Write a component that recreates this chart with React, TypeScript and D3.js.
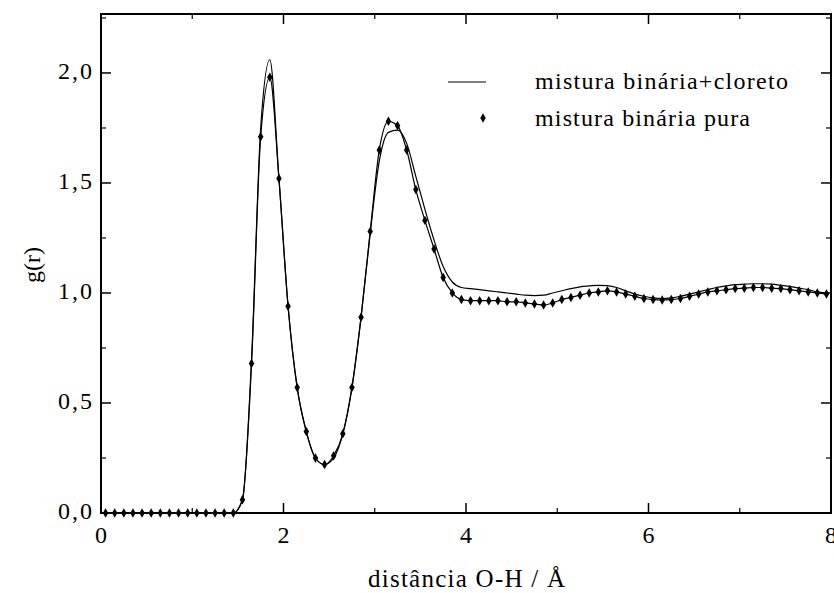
import React from "react";
import * as d3 from "d3";

const rValues: number[] = Array.from({ length: 80 }, (_, k) => +(0.05 + 0.1 * k).toFixed(2));

const gPura: number[] = [
  0, 0, 0, 0, 0, 0, 0, 0, 0, 0, 0, 0, 0, 0, 0,
  0.06, 0.68, 1.71, 1.98, 1.52, 0.94, 0.57, 0.37, 0.25, 0.22,
  0.26, 0.36, 0.57, 0.89, 1.28, 1.65, 1.78, 1.76, 1.65, 1.47,
  1.33, 1.2, 1.07, 1.0, 0.97, 0.965, 0.965, 0.965, 0.965, 0.96,
  0.96, 0.955, 0.95, 0.945, 0.955, 0.97, 0.98, 0.99, 1.0, 1.005,
  1.01, 1.005, 0.995, 0.985, 0.975, 0.97, 0.968, 0.97, 0.975, 0.985,
  0.995, 1.005, 1.01, 1.015, 1.02, 1.022, 1.025, 1.025, 1.022, 1.02,
  1.015, 1.01, 1.005, 1.0, 0.995,
];

const gCloreto: number[] = [
  0, 0, 0, 0, 0, 0, 0, 0, 0, 0, 0, 0, 0, 0, 0,
  0.06, 0.7, 1.75, 2.06, 1.52, 0.94, 0.57, 0.37, 0.25, 0.22,
  0.25, 0.36, 0.57, 0.89, 1.27, 1.6, 1.73, 1.74, 1.68, 1.53,
  1.38, 1.24, 1.12, 1.05, 1.025, 1.02, 1.015, 1.01, 1.005, 1.0,
  0.995, 0.99, 0.988, 0.99, 1.0, 1.01, 1.02, 1.028, 1.032, 1.035,
  1.033, 1.025, 1.01, 0.995, 0.985, 0.978, 0.975, 0.978, 0.985, 0.995,
  1.005, 1.015, 1.025, 1.032, 1.038, 1.04, 1.042, 1.042, 1.04, 1.035,
  1.03, 1.022, 1.015, 1.005, 1.0,
];

const xMajorTicks = [0, 2, 4, 6, 8];
const xMinorTicks = [1, 3, 5, 7];
const yMajorTicks = [0, 0.5, 1.0, 1.5, 2.0];
const yMinorTicks = [0.25, 0.75, 1.25, 1.75, 2.25];
const yTickLabels = ["0,0", "0,5", "1,0", "1,5", "2,0"];
const legendLabels = ["mistura binária+cloreto", "mistura binária pura"];

const W = 834;
const H = 593;
const left = 101;
const right = 831;
const top = 14;
const bottom = 513;

export default function App() {
  const x = d3.scaleLinear().domain([0, 8]).range([left, right]);
  const y = d3.scaleLinear().domain([0, 2.268]).range([bottom, top]);
  const line = d3
    .line<number>()
    .x((_, i) => x(rValues[i]))
    .y((d) => y(d))
    .curve(d3.curveMonotoneX);

  const font = "'Liberation Serif', 'Times New Roman', serif";
  const major = 10;
  const minor = 5;
  const marker = d3.symbol(d3.symbolDiamond, 26)() || "";

  return (
    <svg
      width={W}
      height={H}
      style={{ position: "absolute", left: 0, top: 0, background: "#fff" }}
      fontFamily={font}
    >
      <rect x={0} y={0} width={W} height={H} fill="#fff" />
      {/* data */}
      <path d={line(gCloreto) || ""} fill="none" stroke="#000" strokeWidth={1.2} />
      <path d={line(gPura) || ""} fill="none" stroke="#000" strokeWidth={1.2} />
      {gPura.map((v, i) => (
        <path
          key={i}
          d={marker}
          transform={`translate(${x(rValues[i])},${y(v)})`}
          fill="#000"
        />
      ))}
      {/* frame */}
      <rect
        x={left}
        y={top}
        width={right - left}
        height={bottom - top}
        fill="none"
        stroke="#000"
        strokeWidth={2}
      />
      {/* x ticks */}
      {xMajorTicks.map((t) => (
        <g key={"xm" + t}>
          <line x1={x(t)} x2={x(t)} y1={bottom} y2={bottom - major} stroke="#000" strokeWidth={1.5} />
          <line x1={x(t)} x2={x(t)} y1={top} y2={top + major} stroke="#000" strokeWidth={1.5} />
          <text x={x(t)} y={543} textAnchor="middle" fontSize={24}>
            {t}
          </text>
        </g>
      ))}
      {xMinorTicks.map((t) => (
        <g key={"xn" + t}>
          <line x1={x(t)} x2={x(t)} y1={bottom} y2={bottom - minor} stroke="#000" strokeWidth={1.2} />
          <line x1={x(t)} x2={x(t)} y1={top} y2={top + minor} stroke="#000" strokeWidth={1.2} />
        </g>
      ))}
      {/* y ticks */}
      {yMajorTicks.map((t, i) => (
        <g key={"ym" + t}>
          <line x1={left} x2={left + major} y1={y(t)} y2={y(t)} stroke="#000" strokeWidth={1.5} />
          <line x1={right} x2={right - major} y1={y(t)} y2={y(t)} stroke="#000" strokeWidth={1.5} />
          <text x={92} y={y(t) + 6} textAnchor="end" fontSize={24} textLength={34} lengthAdjust="spacing">
            {yTickLabels[i]}
          </text>
        </g>
      ))}
      {yMinorTicks.map((t) => (
        <g key={"yn" + t}>
          <line x1={left} x2={left + minor} y1={y(t)} y2={y(t)} stroke="#000" strokeWidth={1.2} />
          <line x1={right} x2={right - minor} y1={y(t)} y2={y(t)} stroke="#000" strokeWidth={1.2} />
        </g>
      ))}
      {/* axis titles */}
      <text x={368} y={587} fontSize={25} textLength={197} lengthAdjust="spacing">
        distância O-H / Å
      </text>
      <text
        transform={`translate(40,265) rotate(-90)`}
        textAnchor="middle"
        fontSize={24}
      >
        g(r)
      </text>
      {/* legend */}
      <line x1={448} x2={486} y1={82} y2={82} stroke="#000" strokeWidth={1.2} />
      <text x={535} y={89} fontSize={24} textLength={253} lengthAdjust="spacing">
        {legendLabels[0]}
      </text>
      <path d={marker} transform={`translate(483,118)`} fill="#000" />
      <text x={535} y={126} fontSize={24} textLength={215} lengthAdjust="spacing">
        {legendLabels[1]}
      </text>
    </svg>
  );
}
